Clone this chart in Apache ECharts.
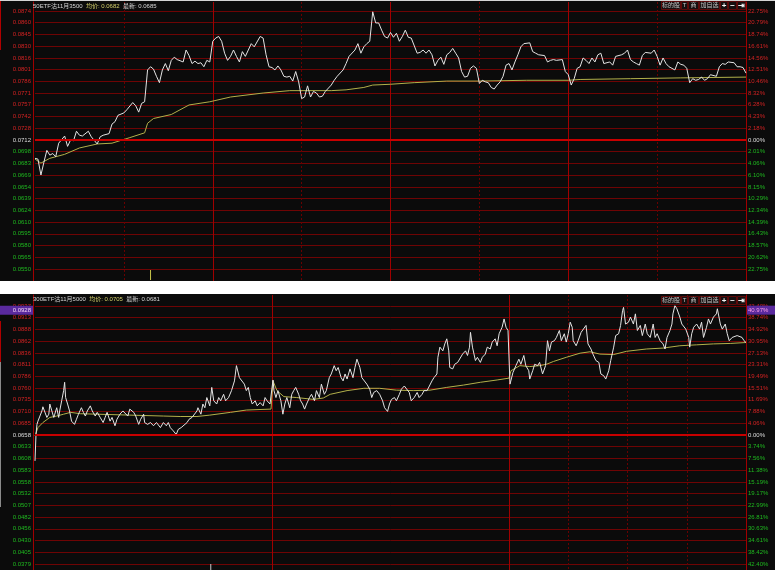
<!DOCTYPE html>
<html>
<head>
<meta charset="utf-8">
<script src="https://cdn.jsdelivr.net/npm/echarts@6.0.0/dist/echarts.min.js"></script>
<style>
  html, body { margin: 0; padding: 0; background: #ffffff; }
  #chart { width: 775px; height: 570px; }
</style>
</head>
<body>
<div id="chart"></div>
<script>
// ---------- top panel: 50ETF沽11月3500, one session (minutes from 09:30) ----------
const topTitle = '50ETF沽11月3500';
const topAvgText = '均价: 0.0682';
const topLastText = '最新: 0.0685';
const topPrevClose = 0.0712;
const topPriceLabels = ['0.0874','0.0860','0.0845','0.0830','0.0816','0.0801','0.0786','0.0771','0.0757','0.0742','0.0728','0.0712',
  '0.0698','0.0683','0.0669','0.0654','0.0639','0.0624','0.0610','0.0595','0.0580','0.0565','0.0550'];
const topPctLabels = ['22.75%','20.79%','18.74%','16.61%','14.56%','12.51%','10.46%','8.32%','6.28%','4.23%','2.18%','0.00%',
  '2.01%','4.06%','6.10%','8.15%','10.29%','12.34%','14.39%','16.43%','18.57%','20.62%','22.75%'];
const topHours = ['09:30','10:00','10:30','11:00','11:30','13:30','14:00','14:30','15:00'];
const topMinutes = [0,1,2,3,4,5,6,7,8,10,11,12,13,14,15,16,18,19,21,22,23,25,26,27,28,30,31,33,34,35,36,37,38,39,40,41,42,43,44,45,46,47,48,50,
  51,52,53,54,55,56,57,58,59,60,61,62,63,64,65,66,67,68,69,70,71,72,73,74,76,77,78,79,80,81,82,83,84,85,86,87,88,89,90,91,92,93,94,95,96,97,98,
  100,101,102,104,105,106,108,109,110,111,112,113,114,115,116,117,118,119,120,121,122,123,124,125,126,127,129,130,131,132,133,134,135,136,137,
  138,139,140,141,142,143,144,145,146,147,148,149,150,151,152,153,154,155,156,157,158,159,160,161,162,163,164,165,167,168,169,170,172,173,174,
  175,176,178,179,180,181,182,183,184,185,186,187,188,189,190,191,192,194,195,196,198,199,200,201,202,203,204,205,206,208,209,210,211,212,213,
  214,216,217,218,219,220,221,222,223,224,225,226,227,228,230,231,232,233,234,236,237,238,239,240];
const topPrices = [0.0689,0.0688,0.0668,0.0684,0.0699,0.0693,0.0695,0.0691,0.0708,0.0717,0.0704,0.0712,0.0711,0.0723,0.0718,0.0717,0.0723,
  0.0716,0.0707,0.0716,0.0718,0.0720,0.0732,0.0735,0.0743,0.0746,0.0750,0.0759,0.0755,0.0747,0.0758,0.0760,0.0800,0.0804,0.0801,0.0792,0.0784,
  0.0800,0.0808,0.0799,0.0812,0.0816,0.0813,0.0810,0.0825,0.0818,0.0808,0.0811,0.0808,0.0809,0.0804,0.0812,0.0810,0.0836,0.0840,0.0842,0.0836,
  0.0821,0.0812,0.0817,0.0825,0.0817,0.0810,0.0823,0.0817,0.0825,0.0833,0.0829,0.0842,0.0840,0.0819,0.0804,0.0803,0.0800,0.0805,0.0800,0.0792,
  0.0791,0.0792,0.0786,0.0798,0.0785,0.0764,0.0766,0.0780,0.0766,0.0773,0.0771,0.0766,0.0767,0.0773,0.0781,0.0787,0.0792,0.0800,0.0808,0.0817,
  0.0825,0.0833,0.0821,0.0829,0.0833,0.0836,0.0873,0.0859,0.0859,0.0850,0.0842,0.0840,0.0847,0.0841,0.0846,0.0836,0.0842,0.0850,0.0841,0.0840,
  0.0821,0.0822,0.0825,0.0821,0.0825,0.0819,0.0805,0.0812,0.0816,0.0807,0.0819,0.0822,0.0827,0.0821,0.0815,0.0798,0.0791,0.0792,0.0802,0.0805,
  0.0802,0.0783,0.0787,0.0785,0.0784,0.0778,0.0776,0.0781,0.0785,0.0792,0.0806,0.0808,0.0800,0.0810,0.0819,0.0829,0.0833,0.0834,0.0823,0.0821,
  0.0819,0.0818,0.0810,0.0812,0.0813,0.0812,0.0813,0.0798,0.0794,0.0781,0.0789,0.0802,0.0804,0.0815,0.0812,0.0808,0.0815,0.0810,0.0819,0.0821,
  0.0808,0.0810,0.0806,0.0817,0.0819,0.0821,0.0825,0.0813,0.0810,0.0808,0.0806,0.0818,0.0822,0.0821,0.0825,0.0817,0.0806,0.0815,0.0808,0.0804,
  0.0800,0.0810,0.0807,0.0806,0.0802,0.0784,0.0789,0.0787,0.0788,0.0791,0.0787,0.0789,0.0794,0.0792,0.0804,0.0808,0.0807,0.0810,0.0809,0.0804,
  0.0804,0.0803,0.0796];
const topAvgMinutes = [0,2,5,10,15,21,26,32,37,38,40,46,52,59,66,77,86,100,105,111,114,120,128,139,150,166,180,184,201,218,240];
const topAvgPrices = [0.0688,0.0683,0.0689,0.0694,0.0702,0.0707,0.0708,0.0715,0.0721,0.0733,0.0739,0.0744,0.0756,0.0760,0.0766,0.0771,0.0774,
  0.0774,0.0775,0.0778,0.0781,0.0782,0.0784,0.0786,0.0786,0.0787,0.0787,0.0788,0.0789,0.0790,0.0791];
const topVolMinutes = [39];
const topVolumes = [1];

// ---------- bottom panel: 300ETF沽11月5000, three sessions (minutes from first open) ----------
const botTitle = '300ETF沽11月5000';
const botAvgText = '均价: 0.0705';
const botLastText = '最新: 0.0681';
const botPrevClose = 0.0658;
const botCursorPrice = 0.0928;
const botCursorPct = '40.97%';
const botPriceLabels = ['0.0937','0.0913','0.0888','0.0862','0.0836','0.0811','0.0786','0.0760','0.0735','0.0710','0.0685','0.0658',
  '0.0633','0.0608','0.0583','0.0558','0.0532','0.0507','0.0482','0.0456','0.0430','0.0405','0.0379'];
const botPctLabels = ['42.40%','38.74%','34.92%','30.95%','27.13%','23.31%','19.49%','15.51%','11.69%','7.88%','4.06%','0.00%',
  '3.74%','7.56%','11.38%','15.19%','19.17%','22.99%','26.81%','30.63%','34.61%','38.42%','42.40%'];
const botHours = ['1-09:30','1-10:30','1-11:30','1-14:00','2-09:30','2-10:30','2-11:30','2-14:00','3-09:30','3-10:30','3-11:30','3-14:00','3-15:00'];
const botMinutes = [0,1,2,3,5,7,8,10,12,14,15,17,19,20,22,24,25,27,29,30,31,33,35,37,40,42,44,47,49,51,53,56,58,61,63,66,69,71,73,76,78,81,83,86,
  89,91,94,96,100,102,105,107,110,111,114,117,120,123,125,127,130,133,135,137,140,143,145,148,150,154,156,159,161,164,165,168,170,172,174,177,
  179,181,184,186,188,191,193,196,199,202,204,207,209,212,214,216,218,220,223,225,228,231,233,235,238,239,
  241,242,244,246,249,251,253,255,258,260,262,264,267,269,271,273,275,278,280,283,285,288,290,293,295,298,300,303,305,307,310,312,314,316,319,
  322,324,326,329,331,333,336,339,341,343,346,349,352,354,357,359,361,364,366,369,371,374,376,379,381,384,387,389,392,394,397,399,402,404,407,
  408,410,413,415,417,419,420,423,425,428,430,433,436,438,440,441,443,446,448,451,453,456,458,461,463,466,468,470,473,475,477,479,
  481,484,487,490,492,495,497,500,501,504,506,509,511,514,517,519,521,523,526,528,531,533,536,538,540,542,544,545,548,550,553,555,558,560,563,
  565,568,571,573,576,578,581,583,586,588,591,593,595,596,598,601,603,606,608,610,613,615,618,620,623,626,628,630,633,636,638,640,643,645,646,
  648,650,653,655,657,659,662,663,665,667,670,673,675,677,680,682,684,687,690,691,694,696,699,701,703,706,708,711,713,716,718,720];
const botPrices = [0.0602,0.0659,0.0681,0.0688,0.0699,0.0710,0.0719,0.0717,0.0696,0.0703,0.0725,0.0721,0.0696,0.0703,0.0717,0.0696,0.0710,
  0.0732,0.0754,0.0772,0.0739,0.0725,0.0710,0.0688,0.0681,0.0692,0.0703,0.0717,0.0707,0.0699,0.0710,0.0721,0.0710,0.0699,0.0707,0.0696,0.0685,
  0.0696,0.0707,0.0688,0.0696,0.0678,0.0692,0.0703,0.0710,0.0707,0.0699,0.0714,0.0707,0.0699,0.0681,0.0692,0.0703,0.0685,0.0681,0.0685,0.0678,
  0.0685,0.0681,0.0674,0.0685,0.0678,0.0685,0.0674,0.0667,0.0659,0.0670,0.0674,0.0678,0.0685,0.0692,0.0696,0.0699,0.0710,0.0717,0.0703,0.0725,
  0.0717,0.0739,0.0721,0.0761,0.0732,0.0725,0.0739,0.0732,0.0746,0.0732,0.0739,0.0754,0.0775,0.0808,0.0782,0.0779,0.0768,0.0754,0.0761,0.0739,
  0.0725,0.0732,0.0721,0.0728,0.0721,0.0739,0.0732,0.0725,0.0721,
  0.0777,0.0754,0.0739,0.0754,0.0732,0.0703,0.0725,0.0739,0.0717,0.0746,0.0754,0.0761,0.0746,0.0732,0.0725,0.0714,0.0725,0.0739,0.0746,0.0732,
  0.0754,0.0739,0.0768,0.0746,0.0754,0.0782,0.0790,0.0808,0.0797,0.0804,0.0782,0.0775,0.0790,0.0779,0.0801,0.0782,0.0804,0.0822,0.0804,0.0782,
  0.0779,0.0768,0.0757,0.0739,0.0750,0.0754,0.0746,0.0732,0.0717,0.0709,0.0725,0.0735,0.0739,0.0732,0.0746,0.0757,0.0764,0.0761,0.0750,0.0732,
  0.0739,0.0750,0.0739,0.0746,0.0754,0.0754,0.0754,0.0775,0.0782,0.0790,0.0826,0.0848,0.0840,0.0855,0.0866,0.0840,0.0804,0.0801,0.0811,0.0815,
  0.0815,0.0833,0.0840,0.0830,0.0848,0.0880,0.0848,0.0819,0.0826,0.0815,0.0826,0.0833,0.0848,0.0844,0.0859,0.0866,0.0851,0.0877,0.0891,0.0909,
  0.0891,0.0884,
  0.0768,0.0793,0.0808,0.0822,0.0811,0.0830,0.0808,0.0797,0.0779,0.0797,0.0811,0.0808,0.0815,0.0790,0.0808,0.0862,0.0840,0.0859,0.0862,0.0869,
  0.0884,0.0862,0.0877,0.0859,0.0877,0.0902,0.0891,0.0862,0.0851,0.0862,0.0880,0.0884,0.0895,0.0855,0.0844,0.0833,0.0819,0.0815,0.0790,0.0786,
  0.0779,0.0797,0.0819,0.0848,0.0873,0.0877,0.0895,0.0927,0.0934,0.0898,0.0902,0.0913,0.0898,0.0920,0.0884,0.0895,0.0873,0.0898,0.0877,0.0869,
  0.0898,0.0869,0.0877,0.0862,0.0855,0.0844,0.0869,0.0884,0.0898,0.0920,0.0938,0.0931,0.0913,0.0898,0.0902,0.0887,0.0869,0.0848,0.0877,0.0891,
  0.0898,0.0887,0.0902,0.0869,0.0891,0.0909,0.0898,0.0913,0.0920,0.0931,0.0898,0.0887,0.0898,0.0877,0.0862,0.0869,0.0866,0.0873,0.0873,0.0869,
  0.0862,0.0858];
const botAvgMinutes = [0,3,8,15,22,29,36,46,63,96,130,147,164,177,198,214,239,241,245,252,265,282,292,299,316,333,349,366,383,400,417,434,451,
  468,480,482,491,501,511,518,525,538,552,562,572,586,599,619,636,653,670,687,704,720];
const botAvgPrices = [0.0656,0.0674,0.0685,0.0696,0.0699,0.0703,0.0707,0.0704,0.0703,0.0701,0.0699,0.0698,0.0698,0.0701,0.0707,0.0712,0.0714,
  0.0775,0.0754,0.0741,0.0739,0.0735,0.0738,0.0746,0.0754,0.0759,0.0759,0.0755,0.0754,0.0755,0.0761,0.0766,0.0772,0.0777,0.0781,0.0797,0.0808,
  0.0806,0.0808,0.0811,0.0817,0.0826,0.0835,0.0838,0.0833,0.0832,0.0839,0.0844,0.0846,0.0851,0.0853,0.0855,0.0856,0.0858];
const botVolMinutes = [178];
const botVolumes = [1];

const buttonLabels = ['标的股', 'T', '商', '加自选', '+', '−', '⇥'];

// ---------- styling ----------
const FONT = "'Liberation Sans', 'Noto Sans CJK SC', sans-serif";
const BG = '#0b0b0b';
const GRID_RED = '#6e0404';
const SOLID_RED = '#a00000';
const DOT_RED = '#6a0000';
const CENTER_RED = '#c80000';
const UP = '#d22222', DOWN = '#1fb81f', FLAT = '#dcdcdc';

const pairs = (xs, ys) => xs.map((x, i) => [x, ys[i]]);
const labelRich = {
  u: { color: UP, fontSize: 6, fontFamily: FONT },
  d: { color: DOWN, fontSize: 6, fontFamily: FONT },
  f: { color: FLAT, fontSize: 6, fontFamily: FONT }
};
const toneOf = i => (i < 11 ? 'u' : i === 11 ? 'f' : 'd');

const option = {
  backgroundColor: BG,
  animation: false,
  textStyle: { fontFamily: FONT },
  grid: [], xAxis: [], yAxis: [], series: [], graphic: []
};

function addPanel(p) {
  const g = option.grid.length, xi = option.xAxis.length, yi = option.yAxis.length;
  const gridBase = { left: 35, right: 29, containLabel: false, outerBoundsMode: 'none' };
  option.grid.push(
    Object.assign({ top: p.outerTop, height: p.outerH }, gridBase),
    Object.assign({ top: p.innerTop, height: p.innerH }, gridBase),
    Object.assign({ top: p.volTop, height: p.volH }, gridBase)
  );
  const hidden = { axisLine: { show: false }, axisTick: { show: false }, axisLabel: { show: false }, splitLine: { show: false } };
  option.xAxis.push(
    Object.assign({}, hidden, { gridIndex: g, type: 'category', data: p.hours, boundaryGap: false,
      splitLine: { show: true, interval: i => p.dotted.indexOf(i) >= 0, lineStyle: { color: DOT_RED, width: 1, type: [2, 2] } } }),
    Object.assign({}, hidden, { gridIndex: g, type: 'category', data: p.hours, boundaryGap: false,
      splitLine: { show: true, interval: i => p.solid.indexOf(i) >= 0, lineStyle: { color: SOLID_RED, width: 1 } } }),
    { gridIndex: g + 1, type: 'value', min: 0, max: p.span, show: false },
    { gridIndex: g + 2, type: 'value', min: 0, max: p.span, show: false }
  );
  option.yAxis.push(
    Object.assign({}, hidden, { gridIndex: g, type: 'value', min: 0, max: 1, position: 'left', offset: 2,
      axisLine: { show: true, lineStyle: { color: SOLID_RED, width: 1 } } }),
    Object.assign({}, hidden, { gridIndex: g, type: 'value', min: 0, max: 1, position: 'right',
      axisLine: { show: true, lineStyle: { color: SOLID_RED, width: 1 } } }),
    { gridIndex: g + 1, type: 'category', data: p.priceLabels, inverse: true, boundaryGap: false, position: 'left',
      axisLine: { show: false }, axisTick: { show: false },
      axisLabel: { interval: 0, margin: 4, formatter: (v, i) => '{' + toneOf(i) + '|' + v + '}', rich: labelRich },
      splitLine: { show: true, interval: 0, lineStyle: { color: GRID_RED, width: 1 } } },
    { gridIndex: g + 1, type: 'category', data: p.pctLabels, inverse: true, boundaryGap: false, position: 'right',
      axisLine: { show: false }, axisTick: { show: false },
      axisLabel: { interval: 0, margin: 2, formatter: (v, i) => '{' + toneOf(i) + '|' + v + '}', rich: labelRich },
      splitLine: { show: false } },
    { gridIndex: g + 1, type: 'value', min: +p.priceLabels[p.priceLabels.length - 1], max: +p.priceLabels[0], show: false },
    { gridIndex: g + 2, type: 'value', min: 0, max: 1, show: false }
  );
  option.series.push(
    { type: 'line', xAxisIndex: xi + 2, yAxisIndex: yi + 4, data: pairs(p.avgMinutes, p.avgPrices), symbol: 'none', silent: true, z: 3,
      lineStyle: { color: '#b2b04a', width: 1 },
      markLine: { silent: true, symbol: 'none', precision: 6, label: { show: false }, animation: false,
        lineStyle: { color: CENTER_RED, width: 2, type: 'solid' }, data: [{ yAxis: p.prevClose }] } },
    { type: 'line', xAxisIndex: xi + 2, yAxisIndex: yi + 4, data: pairs(p.minutes, p.prices), symbol: 'none', silent: true, z: 4,
      lineStyle: { color: '#e4e4e4', width: 1 } },
    { type: 'bar', xAxisIndex: xi + 3, yAxisIndex: yi + 5, data: pairs(p.volMinutes, p.volumes), barWidth: 1, silent: true,
      itemStyle: { color: p.volColor } }
  );
  // header line
  option.graphic.push({ id: p.id + '-head', type: 'text', x: 33, y: p.headY, z: 100,
    style: { text: '{a|' + p.title + '} {b|' + p.avgText + '} {c|' + p.lastText + '}', verticalAlign: 'middle',
      rich: { a: { fill: '#d6d6d6', fontSize: 6, fontFamily: FONT },
              b: { fill: '#d2cf6a', fontSize: 6, fontFamily: FONT },
              c: { fill: '#d6d6d6', fontSize: 6, fontFamily: FONT } } } });
  // toolbar buttons
  const bx = [661, 681, 688, 699, 720, 728, 737, 746];
  buttonLabels.forEach((t, i) => {
    option.graphic.push({ id: p.id + '-btn' + i, type: 'rect', z: 100,
      shape: { x: bx[i] + 0.5, y: p.btnY + 0.5, width: bx[i + 1] - bx[i] - 1, height: 8 },
      style: { fill: '#161010', stroke: '#5c0a0a', lineWidth: 1 } });
    option.graphic.push({ id: p.id + '-btnt' + i, type: 'text', z: 101,
      x: (bx[i] + bx[i + 1]) / 2, y: p.btnY + 4.5,
      style: { text: t, align: 'center', verticalAlign: 'middle', fill: i >= 4 ? '#f0f0f0' : '#c4c4c4',
        fontSize: i >= 4 ? 8 : 6, fontWeight: i >= 4 ? 'bold' : 'normal', fontFamily: FONT } });
  });
}

addPanel({ id: 'top', title: topTitle, avgText: topAvgText, lastText: topLastText, prevClose: topPrevClose,
  priceLabels: topPriceLabels, pctLabels: topPctLabels, hours: topHours, solid: [2, 4, 6], dotted: [1, 3, 5, 7], span: 240,
  minutes: topMinutes, prices: topPrices, avgMinutes: topAvgMinutes, avgPrices: topAvgPrices,
  volMinutes: topVolMinutes, volumes: topVolumes, volColor: '#c8c44a',
  outerTop: 2, outerH: 279, innerTop: 11, innerH: 258, volTop: 270, volH: 10, headY: 6.5, btnY: 1 });

addPanel({ id: 'bot', title: botTitle, avgText: botAvgText, lastText: botLastText, prevClose: botPrevClose,
  priceLabels: botPriceLabels, pctLabels: botPctLabels, hours: botHours, solid: [4, 8], dotted: [9, 10, 11], span: 720,
  minutes: botMinutes, prices: botPrices, avgMinutes: botAvgMinutes, avgPrices: botAvgPrices,
  volMinutes: botVolMinutes, volumes: botVolumes, volColor: '#c8c8c8',
  outerTop: 295, outerH: 275, innerTop: 306, innerH: 258, volTop: 564, volH: 6, headY: 299.5, btnY: 296 });

// page frame: light strip on top, white gap between the two panels, window edge marks on the left
option.graphic.push(
  { id: 'strip', type: 'rect', z: 90, shape: { x: 0, y: 0, width: 775, height: 1 }, style: { fill: '#d4d4d4' } },
  { id: 'gap', type: 'rect', z: 90, shape: { x: 0, y: 281, width: 775, height: 13 }, style: { fill: '#ffffff' } },
  { id: 'edge1', type: 'line', z: 90, shape: { x1: 0.5, y1: 1, x2: 0.5, y2: 50 }, style: { stroke: '#b00000', lineWidth: 1 } },
  { id: 'edge2', type: 'line', z: 90, shape: { x1: 0.5, y1: 321, x2: 0.5, y2: 362 }, style: { stroke: '#b00000', lineWidth: 1 } },
  { id: 'edge3', type: 'line', z: 90, shape: { x1: 0.5, y1: 362, x2: 0.5, y2: 507 }, style: { stroke: '#8a8a8a', lineWidth: 1 } }
);

const chart = echarts.init(document.getElementById('chart'), null, { renderer: 'canvas' });
chart.setOption(option);

// cursor price tags on the bottom panel, placed through the price axis
const botPriceAxis = 6 + 4;
const cy = chart.convertToPixel({ yAxisIndex: botPriceAxis }, botCursorPrice);
chart.setOption({ graphic: [
  { id: 'curL', type: 'rect', z: 110, shape: { x: 0, y: cy - 4.5, width: 33, height: 9 }, style: { fill: '#5a2a9e' } },
  { id: 'curLt', type: 'text', z: 111, x: 31, y: cy, style: { text: botCursorPrice.toFixed(4), align: 'right', verticalAlign: 'middle',
    fill: '#f4d2f4', fontSize: 6, fontFamily: FONT } },
  { id: 'curR', type: 'rect', z: 110, shape: { x: 747, y: cy - 4.5, width: 28, height: 9 }, style: { fill: '#5a2a9e' } },
  { id: 'curRt', type: 'text', z: 111, x: 748, y: cy, style: { text: botCursorPct, align: 'left', verticalAlign: 'middle',
    fill: '#ff9ee6', fontSize: 6, fontFamily: FONT } }
] });
</script>
</body>
</html>
